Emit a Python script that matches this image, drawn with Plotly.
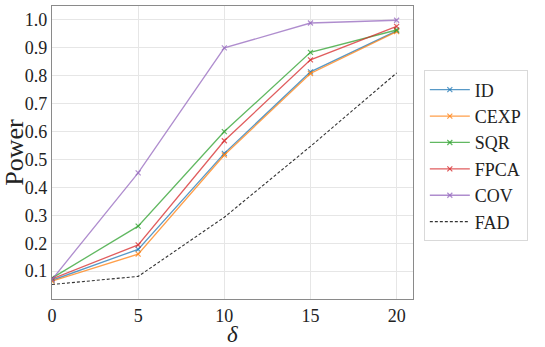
import plotly.graph_objects as go

delta = [0, 5, 10, 15, 20]

power_id = [0.067, 0.178, 0.522, 0.814, 0.961]
power_cexp = [0.064, 0.161, 0.516, 0.808, 0.958]
power_sqr = [0.075, 0.261, 0.600, 0.884, 0.964]
power_fpca = [0.072, 0.194, 0.567, 0.857, 0.977]
power_cov = [0.070, 0.452, 0.900, 0.989, 0.999]
power_fad = [0.052, 0.081, 0.293, 0.547, 0.810]

y_ticks = [0.1, 0.2, 0.3, 0.4, 0.5, 0.6, 0.7, 0.8, 0.9, 1.0]
x_ticks = [0, 5, 10, 15, 20]

FONT = "Liberation Serif, DejaVu Serif, serif"

series = [
    ("ID", power_id, "rgba(31,119,180,0.75)"),
    ("CEXP", power_cexp, "rgba(255,127,14,0.75)"),
    ("SQR", power_sqr, "rgba(44,160,44,0.75)"),
    ("FPCA", power_fpca, "rgba(214,39,40,0.75)"),
    ("COV", power_cov, "rgba(148,103,189,0.75)"),
]

fig = go.Figure()

for name, vals, color in series:
    fig.add_trace(go.Scatter(
        x=delta, y=vals, name=name, mode="lines+markers",
        line=dict(color=color, width=1.3),
        marker=dict(symbol="x-thin", size=5, line=dict(color=color, width=1.2)),
    ))

fig.add_trace(go.Scatter(
    x=delta, y=power_fad, name="FAD", mode="lines",
    line=dict(color="rgba(0,0,0,0.8)", width=1.1, dash="3px,2px"),
))

axis_common = dict(
    showline=True, mirror=True, linecolor="#8a8a8a", linewidth=1.2,
    showgrid=True, gridcolor="#e6e6e6", gridwidth=1,
    zeroline=False, ticks="", automargin=False,
    tickfont=dict(family=FONT, size=18, color="#222"),
)

fig.update_layout(
    width=545, height=347,
    paper_bgcolor="white", plot_bgcolor="white",
    font=dict(family=FONT, color="#222"),
    margin=dict(l=52, r=132, t=6, b=48),
    xaxis=dict(range=[0, 20.95], tickvals=x_ticks, **axis_common),
    yaxis=dict(
        range=[0.0, 1.05], tickvals=y_ticks, tickformat=".1f",
        title=dict(text="Power", font=dict(family=FONT, size=26), standoff=2),
        **axis_common,
    ),
    legend=dict(
        x=1.03, y=0.78, xanchor="left", yanchor="top",
        bgcolor="white", bordercolor="#d9d9d9", borderwidth=1,
        font=dict(family=FONT, size=18, color="#222"),
        tracegroupgap=0, itemwidth=40,
    ),
    showlegend=True,
)

# x-axis label as an annotation so it can sit just under the tick labels
fig.add_annotation(
    text="<i>δ</i>", xref="paper", yref="paper", x=0.5, y=-0.122,
    xanchor="center", yanchor="middle", showarrow=False,
    font=dict(family=FONT, size=23, color="#222"),
)

# page body has a default 8px margin; drop it so the figure sits at the corner
fig.write_html(
    "out.html",
    config={"displayModeBar": False},
    post_script="document.body.style.margin='0';",
)
